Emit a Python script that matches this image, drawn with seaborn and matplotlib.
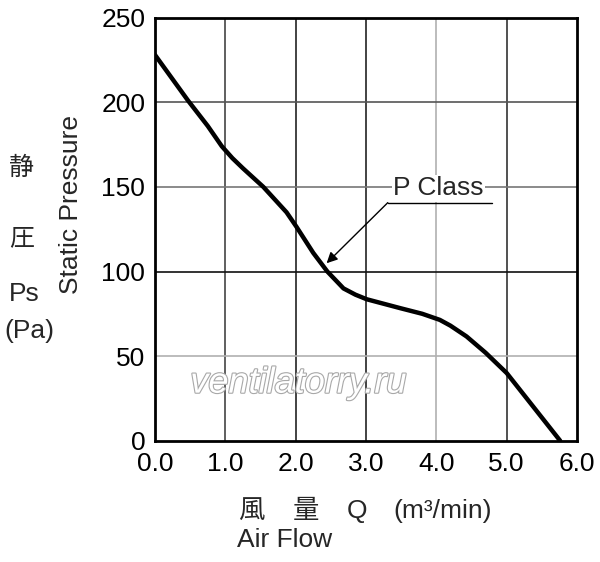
import numpy as np
import pandas as pd
import matplotlib.pyplot as plt
import matplotlib.patheffects as pe
import seaborn as sns

# P-Q curve
air_flow = [0.0, 0.47, 0.75, 0.95, 1.1, 1.25, 1.54, 1.87, 2.01, 2.25, 2.45, 2.68, 2.85,
            3.01, 3.49, 3.8, 4.05, 4.2, 4.43, 4.7, 5.0, 5.38, 5.76]
static_pressure = [228, 201, 186, 174, 167, 161, 150, 135, 126.5, 111, 100, 90, 86.3,
                   83.6, 78.3, 75, 71.4, 68, 61.6, 52, 40, 20, 0]
x_ticks = [0.0, 1.0, 2.0, 3.0, 4.0, 5.0, 6.0]
y_ticks = [0, 50, 100, 150, 200, 250]

df = pd.DataFrame({"Q": air_flow, "Ps": static_pressure})

sns.set_style("white")
plt.rcParams['font.family'] = ['Liberation Sans', 'Noto Sans CJK JP', 'DejaVu Sans']
FS = 19

fig = plt.figure(figsize=(6, 5.62), dpi=100)
ax = fig.add_axes([155 / 600, 1 - 440.7 / 562, 422 / 600, 423 / 562])

# grid lines (some of them print lighter in the original)
v_col = {1.0: "#444444", 2.0: "#222222", 3.0: "#222222", 4.0: "#b0b0b0", 5.0: "#333333"}
h_col = {50: "#b0b0b0", 100: "#111111", 150: "#777777", 200: "#555555"}
for xv in x_ticks[1:-1]:
    ax.axvline(xv, color=v_col[xv], lw=1.2, zorder=1)
for yv in y_ticks[1:-1]:
    ax.axhline(yv, color=h_col[yv], lw=1.2, zorder=1)

sns.lineplot(data=df, x="Q", y="Ps", ax=ax, color="black", lw=3.2, zorder=3)
ax.lines[-1].set_solid_joinstyle("round")

ax.set_xlim(0, 6)
ax.set_ylim(0, 250)
ax.set_xticks(x_ticks)
ax.set_xticklabels([f"{v:.1f}" for v in x_ticks])
ax.set_yticks(y_ticks)
ax.tick_params(length=0, labelsize=FS, colors="black")
ax.tick_params(axis="y", pad=7)
ax.tick_params(axis="x", pad=8)
ax.set_xlabel("")
ax.set_ylabel("")
for s in ax.spines.values():
    s.set_linewidth(2)
    s.set_color("black")

# watermark
ax.text(2.04, 34, "ventilatorry.ru", fontsize=26, style="italic", color="white",
        ha="center", va="center", zorder=2,
        path_effects=[pe.withStroke(linewidth=1.6, foreground="#a8a8a8")])

# P Class annotation
ax.text(4.03, 149.2, "P Class", fontsize=FS, ha="center", va="center", zorder=4,
        bbox=dict(facecolor="white", edgecolor="none", pad=1))
ax.plot([3.31, 4.79], [140.7, 140.7], color="black", lw=1, zorder=4)
ax.annotate("", xy=(2.44, 104.9), xytext=(3.31, 140.7),
            arrowprops=dict(arrowstyle="-|>", color="black", lw=1,
                            mutation_scale=16, shrinkA=0, shrinkB=0), zorder=4)

# axis titles
fig.text(71 / 600, 1 - 205 / 562, "Static Pressure", rotation=90, fontsize=FS,
         ha="center", va="center")
fig.text(22 / 600, 1 - 168 / 562, "静", fontsize=FS - 1, ha="center", va="center")
fig.text(22 / 600, 1 - 238 / 562, "圧", fontsize=FS - 1, ha="center", va="center")
fig.text(24 / 600, 1 - 294 / 562, "Ps", fontsize=FS, ha="center", va="center")
fig.text(29 / 600, 1 - 331 / 562, "(Pa)", fontsize=FS, ha="center", va="center")
for px, label in [(238, "風"), (293, "量"), (347, "Q"), (393, "(m³/min)")]:
    fig.text(px / 600, 1 - 511 / 562, label, fontsize=FS, ha="left", va="center")
fig.text(237 / 600, 1 - 540 / 562, "Air Flow", fontsize=FS, ha="left", va="center")

fig.savefig("out.png", dpi=100)
